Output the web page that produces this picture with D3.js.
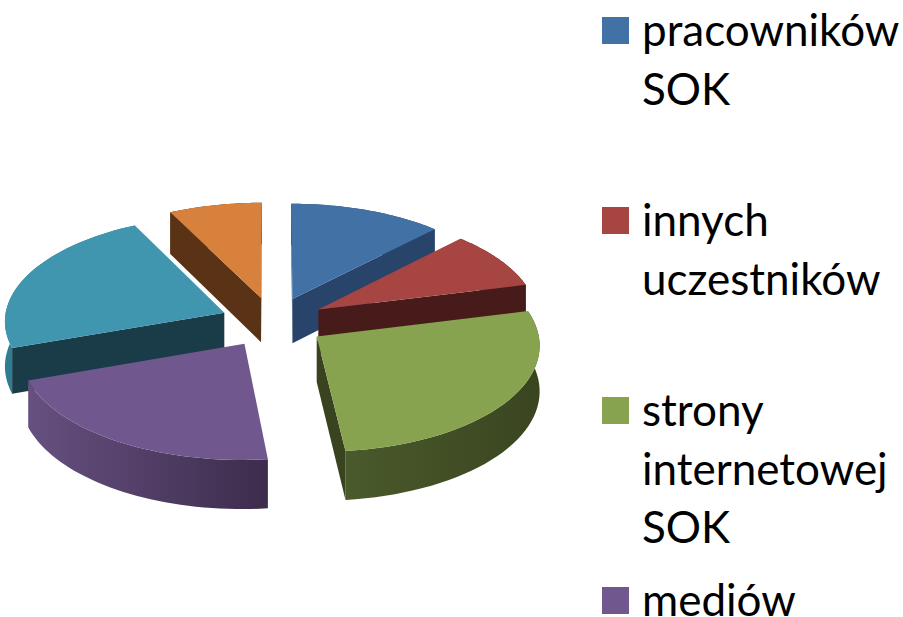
<!DOCTYPE html>
<html>
<head>
<meta charset="utf-8">
<script src="https://cdn.jsdelivr.net/npm/d3@7"></script>
<style>
  html, body { margin: 0; padding: 0; background: #fff; }
  svg { display: block; }
</style>
</head>
<body>
<div id="chart"></div>
<script>
// share of each slice (clockwise from 12 o'clock)
const values = [12.2, 8.9, 27.2, 21.3, 23, 7.4];
const topColors = ['#4271a6', '#a74543', '#87a34f', '#70588f', '#3f96ae', '#d8813c'];
const wallColors = ['#28446a', '#471b19', '#39431f', '#3f2e4e', '#1a3c48', '#5a3216'];
const rimLeft = ['#28446a', '#471b19', '#4a5a2b', '#665080', '#2e7d90', '#5a3216'];
const rimRight = ['#28446a', '#471b19', '#3a4520', '#3d2c4c', '#2e7d90', '#5a3216'];
// the legend is cut off by the frame after the fourth entry
const legendLabels = [
  ['pracowników', 'SOK'],
  ['innych', 'uczestników'],
  ['strony', 'internetowej', 'SOK'],
  ['mediów']
];

const w = 903, h = 617;
const cx = 273, cy = 322, rx = 220, ry = 105;
const explode = 0.24, perspective = 0.07, depth = 45;
// painter's order, back slices first
const drawOrder = [5, 0, 1, 2, 4, 3];

const svg = d3.select('#chart').append('svg')
              .attr('width', w)
              .attr('height', h);
const defs = svg.append('defs');

const xScale = d3.scaleLinear().domain([-1, 1]).range([cx - rx, cx + rx]);
const yScale = d3.scaleLinear().domain([-1, 1]).range([cy - ry, cy + ry]);

// u,v lie in the pie's plane, z is 0 on the top face and 1 on the bottom
function project(u, v, z) {
  let p = 1 / (1 - perspective * v);
  return [xScale(u * p), yScale(v * p) + depth * z * p];
}

const arcs = d3.pie().value(d => d).sort(null)(values);

function slicePoints(a) {
  let mid = (a.startAngle + a.endAngle) / 2;
  let ox = Math.sin(mid) * explode;
  let oy = -Math.cos(mid) * explode;
  let rim = d3.range(0, 41).map(k => {
    let t = a.startAngle + (a.endAngle - a.startAngle) * k / 40;
    return [ox + Math.sin(t), oy - Math.cos(t)];
  });
  return {apex: [ox, oy], rim: rim};
}

const line = d3.line();
const pie = svg.append('g').attr('class', 'pie');

drawOrder.forEach(i => {
  let s = slicePoints(arcs[i]);
  let g = pie.append('g').attr('class', 'slice');
  let top = p => project(p[0], p[1], 0);
  let bottom = p => project(p[0], p[1], 1);
  let first = s.rim[0];
  let last = s.rim[s.rim.length - 1];

  // outer wall, only where the rim is on the viewer's side
  let gradId = 'rim' + i;
  let grad = defs.append('linearGradient').attr('id', gradId);
  grad.append('stop').attr('offset', '0%').attr('stop-color', rimLeft[i]);
  grad.append('stop').attr('offset', '100%').attr('stop-color', rimRight[i]);
  let rimPoly = s.rim.map(top).concat(s.rim.slice().reverse().map(bottom));
  g.append('path')
   .attr('d', line(rimPoly) + 'Z')
   .attr('fill', `url(#${gradId})`);

  // cut faces
  let sa = top(s.apex), sb = top(first), se = top(last);
  if(sb[0] < sa[0] - 0.5) {
    g.append('path')
     .attr('d', line([sa, sb, bottom(first), bottom(s.apex)]) + 'Z')
     .attr('fill', wallColors[i]);
  }
  if(se[0] > sa[0] + 0.5) {
    g.append('path')
     .attr('d', line([sa, se, bottom(last), bottom(s.apex)]) + 'Z')
     .attr('fill', wallColors[i]);
  }

  // top face
  g.append('path')
   .attr('d', line([sa].concat(s.rim.map(top))) + 'Z')
   .attr('fill', topColors[i]);
});

// legend
const legendY = d3.scaleLinear().domain([0, 3]).range([17, 587]);
const legend = svg.append('g').attr('class', 'legend');
legendLabels.forEach((lines, i) => {
  legend.append('rect')
        .attr('x', 602)
        .attr('y', legendY(i))
        .attr('width', 27)
        .attr('height', 27)
        .attr('fill', topColors[i]);
  lines.forEach((txt, j) => {
    legend.append('text')
          .attr('x', 642)
          .attr('y', legendY(i) + 29 + j * 58.5)
          .attr('font-family', 'Lato, Carlito, sans-serif')
          .attr('font-size', 44)
          .attr('fill', '#000')
          .text(txt);
  });
});
</script>
</body>
</html>
